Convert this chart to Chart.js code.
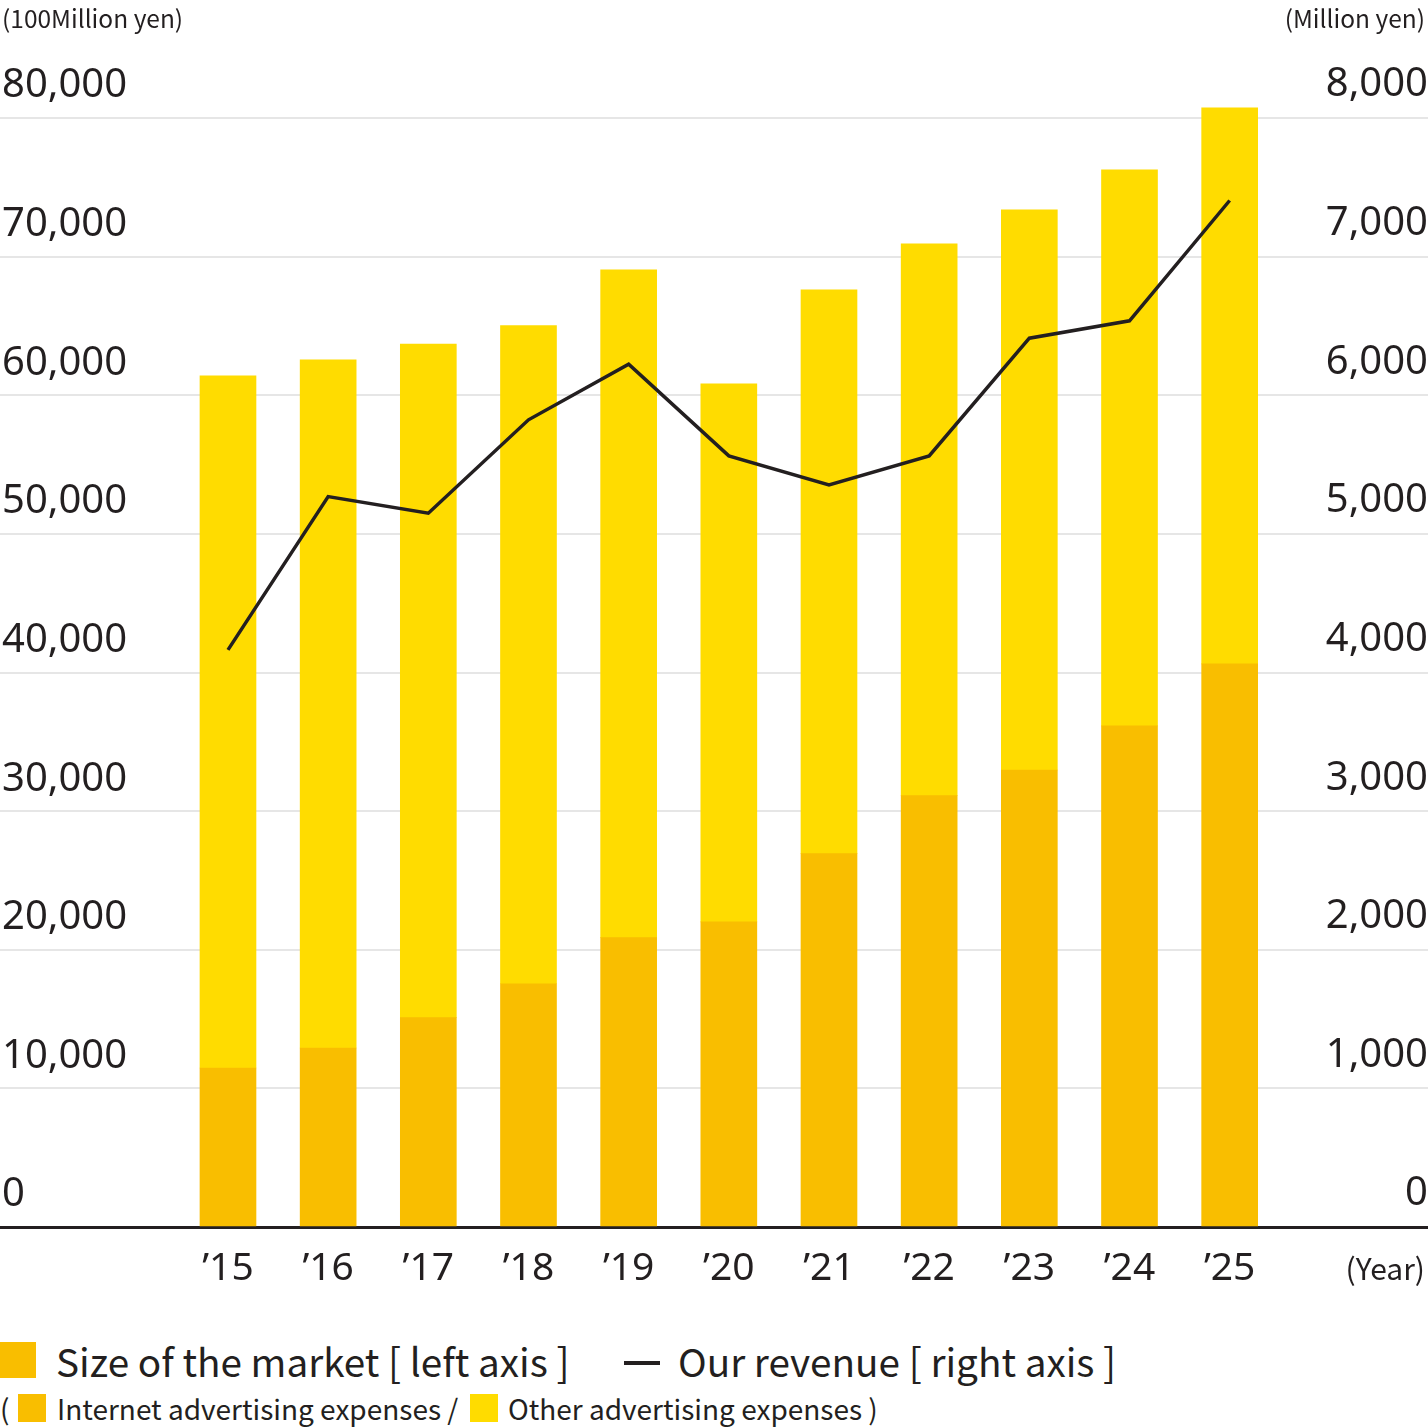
<!DOCTYPE html>
<html>
<head>
<meta charset="utf-8">
<script src="https://cdn.jsdelivr.net/npm/chart.js@4.4.1/dist/chart.umd.min.js"></script>
<style>
  html, body { margin: 0; padding: 0; background: #fff; }
  #wrap { position: relative; width: 1428px; height: 1428px; overflow: hidden; background: #fff;
          font-family: "Noto Sans CJK JP", "Noto Sans", sans-serif; color: #231f20; }
  #c { position: absolute; left: 0; top: 0; }
  .t { position: absolute; white-space: nowrap; }
  .sw { position: absolute; }
</style>
</head>
<body>
<div id="wrap">
  <canvas id="c" width="1428" height="1297"></canvas>
  <div class="t" style="left:2px; top:4px; font-size:24.5px; line-height:28px;">(100Million yen)</div>
  <div class="t" style="right:3px; top:4px; font-size:24.5px; line-height:28px;">(Million yen)</div>
  <div class="t" style="right:3px; top:1250px; font-size:30px; line-height:34px;">(Year)</div>

  <div class="sw" style="left:0; top:1342px; width:36px; height:36px; background:#F9BE00;"></div>
  <div class="t" style="left:56px; top:1337px; font-size:38.7px; line-height:46px;">Size of the market [ left axis ]</div>
  <div class="sw" style="left:624px; top:1361px; width:36px; height:4px; background:#231f20;"></div>
  <div class="t" style="left:678px; top:1337px; font-size:38.7px; line-height:46px;">Our revenue [ right axis ]</div>

  <div class="t" style="left:0px; top:1390px; font-size:28px; line-height:36px;">(</div>
  <div class="sw" style="left:18px; top:1394px; width:28px; height:28px; background:#F9BE00;"></div>
  <div class="t" style="left:57px; top:1390px; font-size:28px; line-height:36px;">Internet advertising expenses /</div>
  <div class="sw" style="left:470px; top:1394px; width:28px; height:28px; background:#FFDC00;"></div>
  <div class="t" style="left:508px; top:1390px; font-size:28px; line-height:36px;">Other advertising expenses )</div>
</div>
<script>
// ---- data ----
const years = [2015, 2016, 2017, 2018, 2019, 2020, 2021, 2022, 2023, 2024, 2025];
const categories = ['’15', '’16', '’17', '’18', '’19', '’20', '’21', '’22', '’23', '’24', '’25'];
// Internet advertising expenses (100 million yen)
const internetAds = [11470, 12910, 15100, 17550, 20870, 22010, 26930, 31120, 32970, 36150, 40620];
// Other advertising expenses (100 million yen)
const otherAds = [49930, 49640, 48600, 47480, 48180, 38810, 40670, 39800, 40410, 40110, 40120];
// Our revenue (million yen)
const revenue = [4163, 5269, 5149, 5823, 6224, 5563, 5354, 5563, 6412, 6537, 7405];
// tick labels
const leftTicks = [0, 10000, 20000, 30000, 40000, 50000, 60000, 70000, 80000];
const rightTicks = [0, 1000, 2000, 3000, 4000, 5000, 6000, 7000, 8000];

const ORANGE = '#F9BE00';
const YELLOW = '#FFDC00';
const INK = '#231f20';
const TICKFONT = '"Noto Sans", "Noto Sans CJK JP", sans-serif';
const fmt = v => v.toLocaleString('en-US');

new Chart(document.getElementById('c'), {
  type: 'bar',
  data: {
    datasets: [
      {
        type: 'line',
        label: 'Our revenue',
        data: years.map((y, i) => ({ x: y, y: revenue[i] })),
        yAxisID: 'y2',
        borderColor: INK,
        borderWidth: 3.5,
        pointRadius: 0,
        tension: 0,
        borderCapStyle: 'butt',
        borderJoinStyle: 'miter',
        fill: false,
        order: 0
      },
      {
        label: 'Internet advertising expenses',
        data: years.map((y, i) => ({ x: y, y: internetAds[i] })),
        backgroundColor: ORANGE,
        borderWidth: 0,
        barThickness: 56,
        yAxisID: 'y',
        stack: 'market',
        order: 1
      },
      {
        label: 'Other advertising expenses',
        data: years.map((y, i) => ({ x: y, y: otherAds[i] })),
        backgroundColor: YELLOW,
        borderWidth: 0,
        barThickness: 56,
        yAxisID: 'y',
        stack: 'market',
        order: 1
      }
    ]
  },
  options: {
    responsive: false,
    animation: false,
    devicePixelRatio: 1,
    layout: { padding: { top: 100, left: 0, right: 0, bottom: 0 } },
    plugins: { legend: { display: false }, tooltip: { enabled: false } },
    scales: {
      x: {
        type: 'linear',
        offset: false,
        stacked: true,
        min: 2012.724,
        max: 2026.98,
        grid: { display: false, drawTicks: false, offset: false },
        border: { display: true, color: INK, width: 3 },
        afterBuildTicks: s => { s.ticks = years.map(v => ({ value: v })); },
        afterFit: s => { s.height = 70; },
        ticks: {
          padding: 18,
          color: INK,
          font: { family: TICKFONT, size: 39 },
          maxRotation: 0,
          autoSkip: false,
          callback: (v) => categories[years.indexOf(v)] || ''
        }
      },
      y: {
        type: 'linear',
        position: 'left',
        stacked: true,
        min: 0,
        max: 81300,
        grid: { color: '#e6e6e6', lineWidth: 2, drawTicks: false },
        border: { display: false },
        afterBuildTicks: s => { s.ticks = leftTicks.map(v => ({ value: v })); },
        afterFit: s => { s.width = 0; },
        ticks: {
          mirror: true,
          padding: 2,
          labelOffset: -32,
          color: INK,
          font: { family: TICKFONT, size: 40 },
          callback: v => fmt(v)
        }
      },
      y2: {
        type: 'linear',
        position: 'right',
        stacked: false,
        min: 0,
        max: 8130,
        grid: { display: false, drawTicks: false },
        border: { display: false },
        afterBuildTicks: s => { s.ticks = rightTicks.map(v => ({ value: v })); },
        afterFit: s => { s.width = 0; },
        ticks: {
          mirror: true,
          padding: 0,
          labelOffset: -33,
          color: INK,
          font: { family: TICKFONT, size: 40 },
          callback: v => fmt(v)
        }
      }
    }
  }
});
</script>
</body>
</html>
